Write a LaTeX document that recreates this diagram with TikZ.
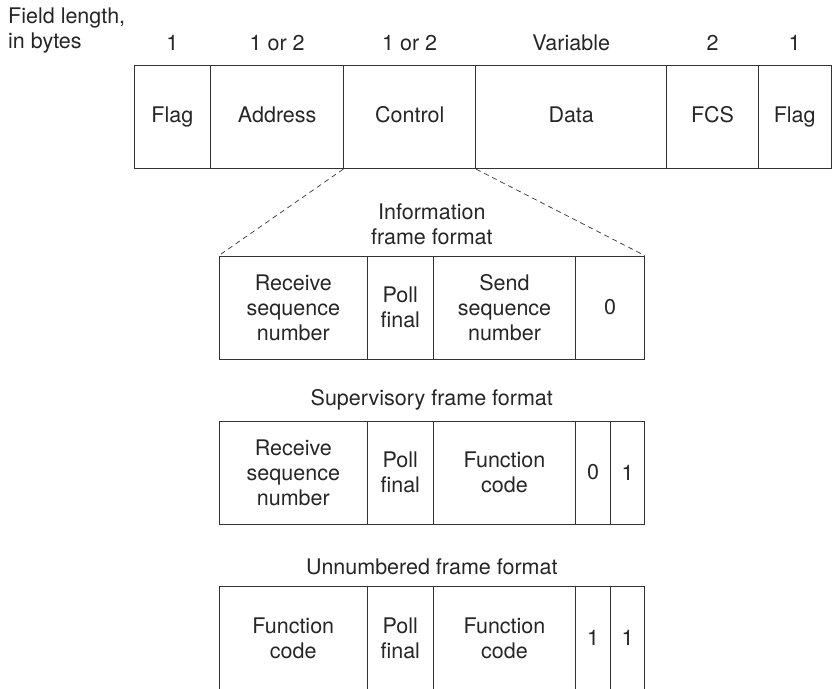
\documentclass[tikz,border=0pt]{standalone}
\usepackage{fontspec}
\setmainfont{TeX Gyre Heros}
\begin{document}
\begin{tikzpicture}[x=1pt,y=-1pt,
  every node/.style={font=\fontsize{21.5}{25}\selectfont, text=black!85},
  field/.style={draw=black!80, line width=0.9pt, minimum height=103pt, inner sep=0pt, align=center},
  topfield/.style={field, text height=15.5pt, text depth=4.5pt},
  lenlabel/.style={anchor=base, inner sep=0pt},
  zoomline/.style={draw=black!80, line width=0.7pt, dash pattern=on 5pt off 4pt}]

  \useasboundingbox (0,0) rectangle (832,688);
  \clip (0,0) rectangle (832,688);

  % frame fields
  \node[topfield, minimum width=76.7pt] (flagA) at (172.35,117.2) {Flag};
  \node[topfield, minimum width=133pt] (addr) at (277.2,117.2) {Address};
  \node[topfield, minimum width=132pt] (ctrl) at (409.7,117.2) {Control};
  \node[topfield, minimum width=191pt] (data) at (571.2,117.2) {Data};
  \node[topfield, minimum width=91.6pt] (fcs) at (712.5,117.2) {FCS};
  \node[topfield, minimum width=72.7pt] (flagB) at (794.65,117.2) {Flag};

  % field lengths
  \node[anchor=west, align=left, inner sep=0pt] (lenhead) at (8,30.5) {Field length,\\in bytes};
  \node[lenlabel] (lenflagA) at (172.35,50.5) {1};
  \node[lenlabel] (lenaddr) at (277.2,50.5) {1 or 2};
  \node[lenlabel] (lenctrl) at (409.7,50.5) {1 or 2};
  \node[lenlabel] (lendata) at (571.2,50.5) {Variable};
  \node[lenlabel] (lenfcs) at (712.5,50.5) {2};
  \node[lenlabel] (lenflagB) at (794.65,50.5) {1};

  % information frame
  \node[align=center] (infotitle) at (431.8,224) {Information\\frame format};
  \node[field, minimum width=148pt] (irecv) at (293.3,307.5) {Receive\\sequence\\number};
  \node[field, minimum width=66pt] (ipoll) at (400.3,307.5) {Poll\\final};
  \node[field, minimum width=142.4pt] (isend) at (504.5,307.5) {Send\\sequence\\number};
  \node[field, minimum width=68.6pt] (izero) at (610,307.5) {0};

  \draw[zoomline] (ctrl.south west) -- (irecv.north west);
  \draw[zoomline] (ctrl.south east) -- (izero.north east);

  % supervisory frame
  \node (suptitle) at (431.8,400) {Supervisory frame format};
  \node[field, minimum width=148pt] (srecv) at (293.3,472.5) {Receive\\sequence\\number};
  \node[field, minimum width=66pt] (spoll) at (400.3,472.5) {Poll\\final};
  \node[field, minimum width=142.4pt] (sfunc) at (504.5,472.5) {Function\\code};
  \node[field, minimum width=35pt] (szero) at (593.2,472.5) {0};
  \node[field, minimum width=33.6pt] (sone) at (627.5,472.5) {1};

  % unnumbered frame
  \node (unntitle) at (431.8,566.7) {Unnumbered frame format};
  \node[field, minimum width=148pt] (ufuncA) at (293.3,638.2) {Function\\code};
  \node[field, minimum width=66pt] (upoll) at (400.3,638.2) {Poll\\final};
  \node[field, minimum width=142.4pt] (ufuncB) at (504.5,638.2) {Function\\code};
  \node[field, minimum width=35pt] (uoneA) at (593.2,638.2) {1};
  \node[field, minimum width=33.6pt] (uoneB) at (627.5,638.2) {1};

\end{tikzpicture}
\end{document}
